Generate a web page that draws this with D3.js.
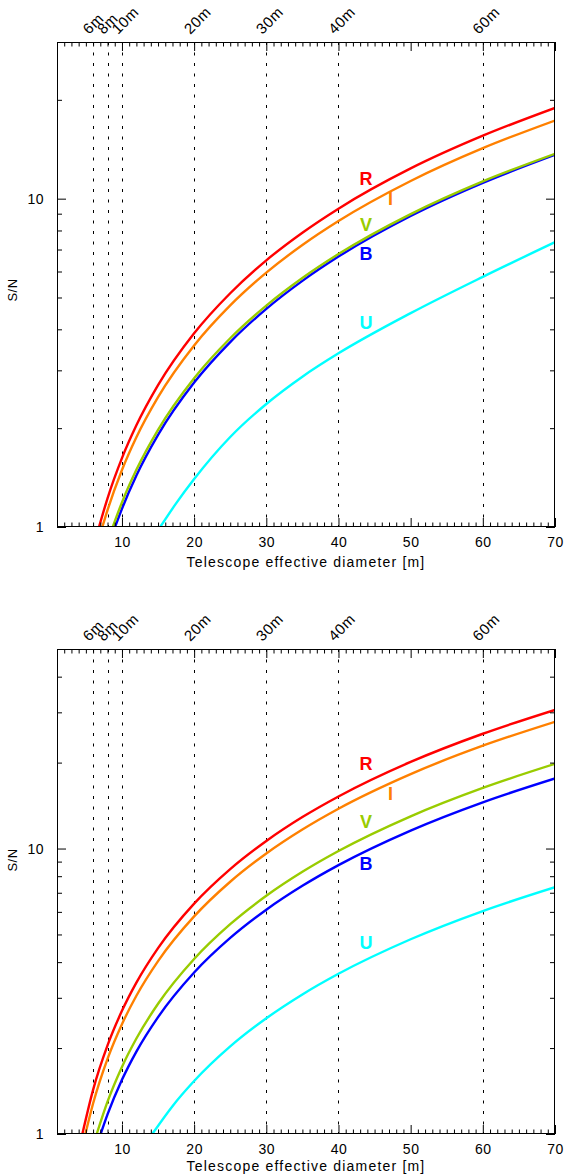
<!DOCTYPE html>
<html><head><meta charset="utf-8">
<script src="https://cdn.jsdelivr.net/npm/d3@7"></script>
<style>
body{margin:0;background:#fff;}
text{font-family:"Liberation Sans",Arial,Helvetica,sans-serif;fill:#000;}
</style></head><body>
<svg id="chart" width="571" height="1174"></svg>
<script>
// Photometric bands, drawn back to front
const bandNames = ["U", "B", "V", "I", "R"];
const bandColors = ["#00ffff", "#0000ff", "#99cc00", "#ff8000", "#ff0000"];

// Reference telescope diameters marked with dotted lines
const diameterMarks = [6, 8, 10, 20, 30, 40, 60];
const diameterMarkLabels = ["6m", "8m", "10m", "20m", "30m", "40m", "60m"];

const xMajorTicks = [10, 20, 30, 40, 50, 60, 70];
const yMajorTicks = [1, 10];
const yTickLabels = ["1", "10"];

// Upper panel: [diameter m, S/N]
const upperU = [[15.3,1],[17.5,1.18],[20,1.4],[25,1.88],[30,2.37],[35,2.87],[40,3.38],[50,4.48],[60,5.78],[70,7.37]];
const upperB = [[9.04,1],[10,1.137],[12,1.435],[15,1.908],[20,2.753],[25,3.658],[30,4.617],[35,5.619],[40,6.662],[50,8.856],[60,11.17],[70,13.6]];
const upperV = [[8.72,1],[10,1.188],[12,1.493],[15,1.977],[20,2.838],[25,3.757],[30,4.724],[35,5.733],[40,6.782],[50,8.976],[60,11.29],[70,13.7]];
const upperI = [[7.28,1],[8,1.126],[10,1.492],[12,1.877],[15,2.486],[20,3.571],[25,4.729],[30,5.951],[35,7.226],[40,8.55],[50,11.32],[60,14.25],[70,17.3]];
const upperR = [[6.82,1],[8,1.223],[10,1.621],[12,2.04],[15,2.704],[20,3.89],[25,5.152],[30,6.49],[35,7.877],[40,9.323],[50,12.36],[60,15.55],[70,18.9]];
const upperLabelPos = [[43.8,4.19],[43.8,6.81],[43.8,8.35],[47.2,10.0],[43.8,11.5]];

// Lower panel: [diameter m, S/N]
const lowerU = [[14.2,1],[17,1.252],[20,1.533],[25,2.026],[30,2.543],[35,3.082],[40,3.641],[50,4.81],[60,6.04],[70,7.32]];
const lowerB = [[7.05,1],[8,1.171],[10,1.548],[12,1.944],[15,2.568],[20,3.68],[25,4.863],[30,6.107],[35,7.403],[40,8.748],[50,11.56],[60,14.52],[70,17.6]];
const lowerV = [[6.5,1],[8,1.298],[10,1.718],[12,2.16],[15,2.859],[20,4.103],[25,5.432],[30,6.83],[35,8.288],[40,9.802],[50,12.97],[60,16.31],[70,19.8]];
const lowerI = [[4.93,1],[6,1.279],[8,1.834],[10,2.426],[12,3.049],[15,4.032],[20,5.783],[25,7.65],[30,9.612],[35,11.66],[40,13.79],[50,18.23],[60,22.92],[70,27.8]];
const lowerR = [[4.51,1],[6,1.428],[8,2.044],[10,2.7],[12,3.39],[15,4.478],[20,6.411],[25,8.47],[30,10.63],[35,12.89],[40,15.22],[50,20.11],[60,25.24],[70,30.6]];
const lowerLabelPos = [[43.8,4.69],[43.8,8.86],[43.8,12.46],[47.2,15.6],[43.8,19.8]];

const panels = [
  {top: 42, bottom: 527, yMax: 30, series: [upperU, upperB, upperV, upperI, upperR], labels: upperLabelPos, snY: 290, titleDy: 40},
  {top: 649, bottom: 1134, yMax: 50, series: [lowerU, lowerB, lowerV, lowerI, lowerR], labels: lowerLabelPos, snY: 860, titleDy: 37}
];

const svg = d3.select("#chart");
const left = 57, right = 555;
const x = d3.scaleLinear().domain([1, 70]).range([left, right]);

panels.forEach((p, pi) => {
  const y = d3.scaleLog().domain([1, p.yMax]).range([p.bottom, p.top]);
  const g = svg.append("g");
  const h = p.bottom - p.top;

  const clipId = "clip" + pi;
  svg.append("clipPath").attr("id", clipId)
    .append("rect").attr("x", left).attr("y", p.top).attr("width", right - left).attr("height", h);

  // dotted reference diameters
  g.selectAll("line.mark").data(diameterMarks).join("line")
    .attr("x1", d => Math.round(x(d)) + 0.5).attr("x2", d => Math.round(x(d)) + 0.5)
    .attr("y1", p.top).attr("y2", p.bottom)
    .attr("stroke", "#000").attr("stroke-width", 1).attr("stroke-dasharray", "3,7.5");

  g.selectAll("text.mark").data(diameterMarks).join("text")
    .attr("transform", (d) => `translate(${x(d) - 4},${p.top - 7}) rotate(-45)`)
    .attr("font-size", 15).attr("letter-spacing", 0.6)
    .text((d, i) => diameterMarkLabels[i]);

  // S/N curves
  const line = d3.line().x(d => x(d[0])).y(d => y(d[1])).curve(d3.curveMonotoneX);
  g.append("g").attr("clip-path", `url(#${clipId})`)
    .selectAll("path").data(p.series).join("path")
    .attr("d", line).attr("fill", "none")
    .attr("stroke", (d, i) => bandColors[i]).attr("stroke-width", 2.4);

  // band labels
  g.selectAll("text.band").data(p.labels).join("text")
    .attr("x", d => x(d[0])).attr("y", d => y(d[1]))
    .attr("dy", "0.36em").attr("text-anchor", "middle")
    .attr("font-size", 18).attr("font-weight", "bold")
    .style("fill", (d, i) => bandColors[i])
    .text((d, i) => bandNames[i]);

  // x axes (bottom and top)
  const xMinor = d3.range(2, 70).filter(v => v % 10 !== 0);
  const axB = g.append("g").attr("transform", `translate(0,${p.bottom})`);
  axB.call(d3.axisBottom(x).tickValues(xMinor).tickSize(-4.5).tickFormat(""));
  axB.append("g").call(d3.axisBottom(x).tickValues(xMajorTicks).tickSizeInner(-9).tickSizeOuter(0).tickPadding(10).tickFormat(d3.format("d")));
  const axT = g.append("g").attr("transform", `translate(0,${p.top})`);
  axT.call(d3.axisTop(x).tickValues(xMinor).tickSize(-4.5).tickFormat(""));
  axT.append("g").call(d3.axisTop(x).tickValues(xMajorTicks).tickSize(-9).tickFormat(""));

  // y axes (left and right)
  const yMinor = [2,3,4,5,6,7,8,9,20,30,40,50].filter(v => v < p.yMax);
  const axL = g.append("g").attr("transform", `translate(${left},0)`);
  axL.call(d3.axisLeft(y).tickValues(yMinor).tickSize(-5).tickFormat(""));
  axL.append("g").call(d3.axisLeft(y).tickValues(yMajorTicks).tickSizeInner(-9).tickSizeOuter(0).tickPadding(13)
    .tickFormat((d, i) => yTickLabels[i]));
  const axR = g.append("g").attr("transform", `translate(${right},0)`);
  axR.call(d3.axisRight(y).tickValues(yMinor).tickSize(-5).tickFormat(""));
  axR.append("g").call(d3.axisRight(y).tickValues(yMajorTicks).tickSize(-9).tickFormat(""));

  g.selectAll(".domain").remove();
  g.selectAll(".tick line").attr("stroke", "#000");
  g.selectAll(".tick text").attr("font-size", 14).attr("letter-spacing", 0.5)
    .attr("font-family", '"Liberation Sans",Arial,sans-serif').style("fill", "#000");

  // frame
  g.append("rect").attr("x", left + 0.5).attr("y", p.top + 0.5)
    .attr("width", right - left - 1).attr("height", h - 1)
    .attr("fill", "none").attr("stroke", "#000").attr("stroke-width", 1);

  // titles
  g.append("text").attr("x", (left + right) / 2).attr("y", p.bottom + p.titleDy)
    .attr("text-anchor", "middle").attr("font-size", 14).attr("letter-spacing", 1.2)
    .text("Telescope effective diameter [m]");
  g.append("text").attr("transform", `translate(17,${p.snY}) rotate(-90)`)
    .attr("text-anchor", "middle").attr("font-size", 13).attr("letter-spacing", 0.5)
    .text("S/N");
});
</script>
</body></html>
